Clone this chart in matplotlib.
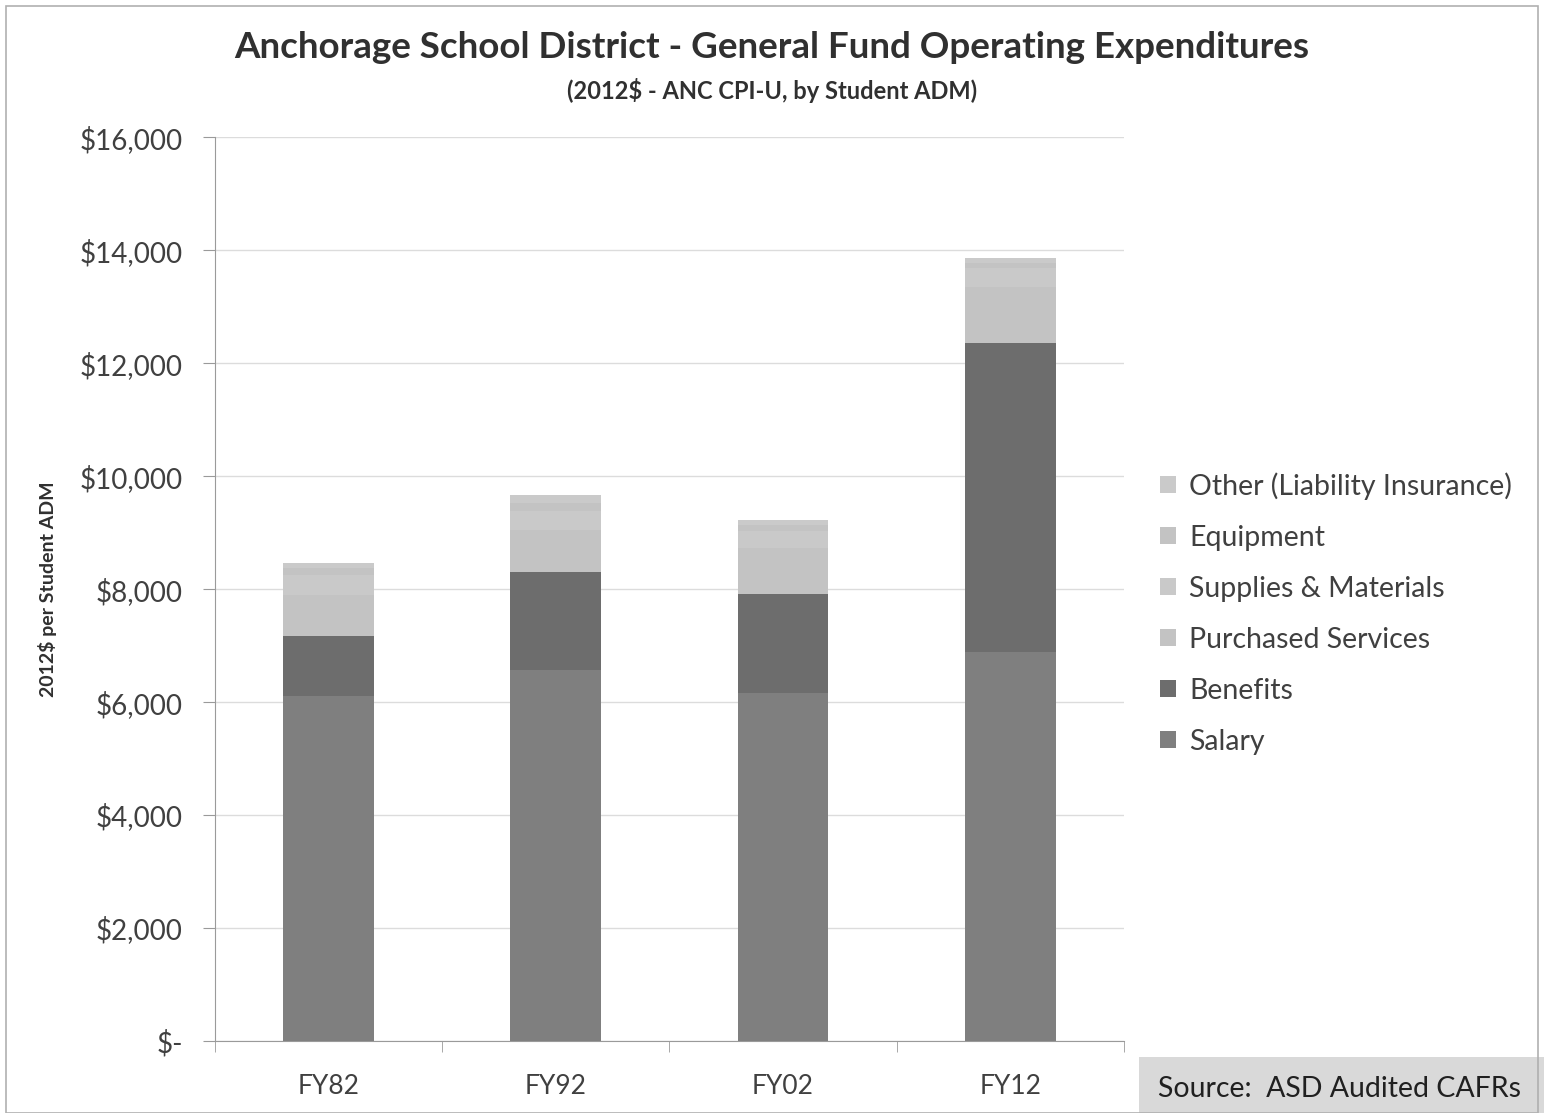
import numpy as np
import matplotlib.pyplot as plt
import matplotlib.patches as patch

plt.rcParams['font.family'] = ['Lato', 'DejaVu Sans']

years = ['FY82', 'FY92', 'FY02', 'FY12']
salary     = [6100, 6570, 6160, 6880]
benefits   = [1070, 1730, 1750, 5470]
purchased  = [730, 740, 820, 1000]
supplies   = [350, 350, 300, 330]
equipment  = [120, 140, 110, 90]
other      = [90, 130, 80, 90]

series = [('Salary', salary, '#7f7f7f'),
          ('Benefits', benefits, '#6d6d6d'),
          ('Purchased Services', purchased, '#c3c3c3'),
          ('Supplies & Materials', supplies, '#c9c9c9'),
          ('Equipment', equipment, '#c3c3c3'),
          ('Other (Liability Insurance)', other, '#cacaca')]

fig01 = plt.figure(figsize=(15.44, 11.13), dpi=100)
axs01 = fig01.add_axes([0.139, 0.0647, 0.589, 0.812])

xval = np.arange(len(years))
base = np.zeros(len(years))
handles = []
for name, vals, col in series:
    h = axs01.bar(xval, vals, 0.40, bottom=base, color=col, edgecolor='none', label=name, zorder=3)
    handles.append(h)
    base = base + np.array(vals)

axs01.set_xlim(-0.5, 3.5)
axs01.set_ylim(0, 16000)
yt = np.arange(0, 16001, 2000)
axs01.set_yticks(yt)
axs01.set_yticklabels(['$-'] + ['${:,}'.format(v) for v in yt[1:]], fontsize=20, color='#404040')
axs01.yaxis.grid(True, color='#dcdcdc', lw=1, zorder=0)
axs01.set_xticks(xval)
axs01.set_xticklabels(years, fontsize=19, color='#404040')
axs01.set_xticks(np.arange(-0.5, 3.6, 1), minor=True)
axs01.tick_params(axis='x', which='major', length=0, pad=24)
axs01.tick_params(axis='x', which='minor', length=8, color='#9a9a9a', direction='out')
axs01.tick_params(axis='y', length=9, color='#9a9a9a', direction='out', pad=14)
for s in ['top', 'right']:
    axs01.spines[s].set_visible(False)
for s in ['left', 'bottom']:
    axs01.spines[s].set_color('#9a9a9a')

axs01.set_ylabel('2012$ per Student ADM', fontsize=14, fontweight='bold', color='#303030', labelpad=16)

fig01.text(0.50, 0.957, 'Anchorage School District - General Fund Operating Expenditures',
           ha='center', va='center', fontsize=26.5, fontweight='bold', color='#303030')
fig01.text(0.50, 0.919, '(2012$ - ANC CPI-U, by Student ADM)',
           ha='center', va='center', fontsize=17, fontweight='bold', color='#303030')

axs01.legend(handles[::-1], [s[0] for s in series[::-1]], loc='upper left',
             bbox_to_anchor=(0.735, 0.599), bbox_transform=fig01.transFigure,
             frameon=False, fontsize=20.5, labelspacing=0.88, handlelength=0.55,
             handleheight=0.55, handletextpad=0.45, labelcolor='#404040')

fig01.patches.append(patch.Rectangle((0.738, 0.0), 0.262, 0.05, transform=fig01.transFigure,
                                     facecolor='#d9d9d9', edgecolor='none'))
fig01.text(0.750, 0.022, 'Source:  ASD Audited CAFRs', ha='left', va='center',
           fontsize=20.5, color='#202020')

fig01.patches.append(patch.Rectangle((0.004, 0.0), 0.992, 0.995, transform=fig01.transFigure,
                                     facecolor='none', edgecolor='#b0b0b0', lw=1.2))

plt.savefig('out.png')
plt.close()
